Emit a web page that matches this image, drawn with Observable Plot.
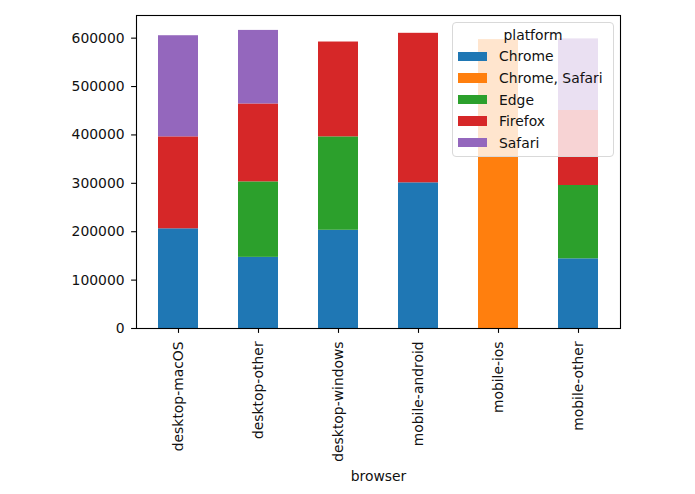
<!DOCTYPE html>
<html>
<head>
<meta charset="utf-8">
<script src="https://cdn.jsdelivr.net/npm/d3@7"></script>
<script src="https://cdn.jsdelivr.net/npm/@observablehq/plot@0.6"></script>
<style>
  html, body { margin: 0; padding: 0; background: #fff; }
  #wrap { position: relative; width: 695px; height: 494px; font-family: "DejaVu Sans", sans-serif; }
  #legend { position: absolute; left: 452px; top: 22px; width: 160px; height: 133px;
    background: rgba(255,255,255,0.8); border: 1px solid #d9d9d9; border-radius: 4px;
    font-size: 13.9px; color: #111; box-sizing: content-box; }
  #legend .title { position: absolute; left: 0; right: 0; top: 3.5px; text-align: center; height: 16px; line-height: 16px; }
  #legend .row { position: absolute; left: 5px; height: 16px; line-height: 16px; white-space: nowrap; }
  #legend .sw { position: absolute; left: 0; top: 3.3px; width: 29px; height: 9.5px; }
  #legend .lab { position: absolute; left: 41px; top: 0; }
</style>
</head>
<body>
<div id="wrap"></div>
<script>
const browsers = ["desktop-macOS","desktop-other","desktop-windows","mobile-android","mobile-ios","mobile-other"];
const platforms = ["Chrome","Chrome, Safari","Edge","Firefox","Safari"];
const colors = ["#1f77b4","#ff7f0e","#2ca02c","#d62728","#9467bd"];
const chrome       = [206000, 147000, 203000, 301000,      0, 144000];
const chromeSafari = [     0,      0,      0,      0, 597000,      0];
const edge         = [     0, 156000, 193000,      0,      0, 151500];
const firefox      = [190000, 161000, 196000, 309000,      0, 155000];
const safari       = [209000, 152000,      0,      0,      0, 148000];
const yTicks = [0, 100000, 200000, 300000, 400000, 500000, 600000];

const series = [chrome, chromeSafari, edge, firefox, safari];
const data = [];
browsers.forEach((b, i) => {
  platforms.forEach((p, j) => {
    const v = series[j][i];
    if (v > 0) data.push({browser: b, platform: p, value: v});
  });
});
const ymax = d3.max(browsers.map((b, i) => d3.sum(series, s => s[i]))) * 1.05;

const chart = Plot.plot({
  width: 695,
  height: 494,
  marginLeft: 136,
  marginRight: 75,
  marginTop: 15,
  marginBottom: 166,
  style: {fontFamily: "DejaVu Sans, sans-serif", fontSize: "13.9px", color: "#111", background: "#fff"},
  x: {domain: browsers, paddingInner: 0.5, paddingOuter: 0.25},
  y: {domain: [0, ymax]},
  color: {domain: platforms, range: colors},
  marks: [
    Plot.barY(data, {x: "browser", y: "value", fill: "platform"}),
    Plot.axisY({ticks: yTicks, tickFormat: d => String(d), tickSize: 4.9, tickPadding: 7, label: null, strokeWidth: 1.1, stroke: "#000"}),
    Plot.axisX({tickRotate: -90, tickSize: 4.9, tickPadding: 8, label: "browser", labelAnchor: "center", labelOffset: 152, strokeWidth: 1.1, stroke: "#000"}),
    Plot.frame({stroke: "#000", strokeWidth: 1.1})
  ]
});
const wrap = document.getElementById("wrap");
wrap.appendChild(chart);

const legend = document.createElement("div");
legend.id = "legend";
const title = document.createElement("div");
title.className = "title";
title.textContent = "platform";
legend.appendChild(title);
platforms.forEach((p, j) => {
  const row = document.createElement("div");
  row.className = "row";
  row.style.top = (25.3 + j * 21.6) + "px";
  const sw = document.createElement("div");
  sw.className = "sw";
  sw.style.background = colors[j];
  const lab = document.createElement("div");
  lab.className = "lab";
  lab.textContent = p;
  row.appendChild(sw);
  row.appendChild(lab);
  legend.appendChild(row);
});
wrap.appendChild(legend);
</script>
</body>
</html>
